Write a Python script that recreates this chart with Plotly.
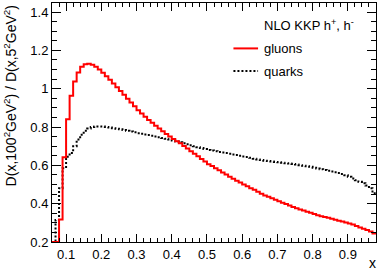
import numpy as np
import plotly.graph_objects as go

# histogram binning (x axis)
BIN_LOW = 0.06
BIN_WIDTH = 0.01

gluons = [0.2, 0.2, 0.318, 0.642, 0.84, 0.963, 1.038, 1.085, 1.115, 1.128,
          1.130, 1.125, 1.115, 1.100, 1.083, 1.065, 1.046, 1.027, 1.008, 0.988,
          0.968, 0.948, 0.928, 0.908, 0.887, 0.870, 0.853, 0.837, 0.822, 0.807,
          0.792, 0.778, 0.764, 0.751, 0.738, 0.726, 0.715, 0.701, 0.688, 0.674,
          0.660, 0.647, 0.633, 0.620, 0.606, 0.596, 0.585, 0.574, 0.563, 0.552,
          0.541, 0.530, 0.520, 0.510, 0.500, 0.491, 0.481, 0.472, 0.462, 0.452,
          0.443, 0.436, 0.428, 0.420, 0.413, 0.405, 0.398, 0.390, 0.382, 0.376,
          0.370, 0.364, 0.358, 0.352, 0.346, 0.340, 0.335, 0.330, 0.326, 0.321,
          0.316, 0.311, 0.307, 0.302, 0.297, 0.291, 0.284, 0.276, 0.269, 0.262,
          0.255, 0.245]

quarks = [0.2, 0.315, 0.48, 0.585, 0.645, 0.665, 0.70, 0.735, 0.76, 0.78,
          0.792, 0.80, 0.803, 0.803, 0.802, 0.800, 0.797, 0.794, 0.791, 0.788,
          0.784, 0.780, 0.776, 0.772, 0.768, 0.765, 0.761, 0.758, 0.755, 0.751,
          0.747, 0.743, 0.739, 0.735, 0.730, 0.725, 0.720, 0.715, 0.710, 0.705,
          0.700, 0.695, 0.690, 0.685, 0.680, 0.677, 0.674, 0.670, 0.667, 0.664,
          0.661, 0.657, 0.654, 0.650, 0.646, 0.643, 0.639, 0.635, 0.631, 0.628,
          0.624, 0.622, 0.620, 0.618, 0.616, 0.614, 0.611, 0.609, 0.607, 0.604,
          0.601, 0.598, 0.595, 0.592, 0.588, 0.584, 0.580, 0.576, 0.572, 0.568,
          0.564, 0.560, 0.555, 0.548, 0.540, 0.531, 0.522, 0.514, 0.506, 0.495,
          0.480, 0.455]

x_ticks = [0.1, 0.2, 0.3, 0.4, 0.5, 0.6, 0.7, 0.8, 0.9]
x_ticklabels = ["0.1", "0.2", "0.3", "0.4", "0.5", "0.6", "0.7", "0.8", "0.9"]
y_ticks = [0.2, 0.4, 0.6, 0.8, 1.0, 1.2, 1.4]
y_ticklabels = ["0.2", "0.4", "0.6", "0.8", "1", "1.2", "1.4"]

n = len(gluons)
edges = BIN_LOW + BIN_WIDTH * np.arange(n + 1)
XMIN, XMAX = edges[0], edges[-1]


def step(vals):
    return list(edges), list(vals) + [vals[-1]]


FONT = "Liberation Sans, Arial, Helvetica, sans-serif"

fig = go.Figure()
gx, gy = step(gluons)
qx, qy = step(quarks)
fig.add_trace(go.Scatter(x=qx, y=qy, mode="lines", line_shape="hv",
                         line=dict(color="black", width=2, dash="2px,2px"),
                         showlegend=False, hoverinfo="skip"))
fig.add_trace(go.Scatter(x=gx, y=gy, mode="lines", line_shape="hv",
                         line=dict(color="#ff0000", width=2),
                         showlegend=False, hoverinfo="skip"))

axis_common = dict(showline=True, linecolor="black", linewidth=1, mirror="allticks",
                   ticks="inside", tickcolor="black", showgrid=False, zeroline=False,
                   automargin=False,
                   tickfont=dict(family=FONT, size=13, color="black"))

fig.update_xaxes(range=[XMIN, XMAX], tickvals=x_ticks, ticktext=x_ticklabels,
                 ticklen=8, tickwidth=1,
                 minor=dict(ticks="inside", dtick=0.02, tick0=0.0, ticklen=4,
                            tickcolor="black", showgrid=False),
                 **axis_common)
fig.update_yaxes(range=[0.2, 1.447], tickvals=y_ticks, ticktext=y_ticklabels,
                 ticklen=9, tickwidth=1,
                 minor=dict(ticks="inside", dtick=0.05, tick0=0.0, ticklen=5,
                            tickcolor="black", showgrid=False),
                 **axis_common)

annotations = [
    dict(text="D(x,100<sup>2</sup>GeV<sup>2</sup>) / D(x,5<sup>2</sup>GeV<sup>2</sup>)",
         xref="paper", yref="paper", x=-0.13, y=1.0, xanchor="center", yanchor="top",
         textangle=-90, showarrow=False, font=dict(family=FONT, size=14, color="black")),
    dict(text="x", xref="paper", yref="paper", x=1.005, y=-0.088, xanchor="right",
         yanchor="middle", showarrow=False, font=dict(family=FONT, size=14, color="black")),
    dict(text="NLO KKP h<sup>+</sup>, h<sup>-</sup>", xref="paper", yref="paper",
         x=0.648, y=0.908, xanchor="left", yanchor="middle", showarrow=False,
         font=dict(family=FONT, size=13, color="black")),
    dict(text="gluons", xref="paper", yref="paper", x=0.648, y=0.81, xanchor="left",
         yanchor="middle", showarrow=False, font=dict(family=FONT, size=13, color="black")),
    dict(text="quarks", xref="paper", yref="paper", x=0.648, y=0.715, xanchor="left",
         yanchor="middle", showarrow=False, font=dict(family=FONT, size=13, color="black")),
]

shapes = [
    dict(type="line", xref="paper", yref="paper", x0=0.56, x1=0.636, y0=0.81, y1=0.81,
         line=dict(color="#ff0000", width=2)),
    dict(type="line", xref="paper", yref="paper", x0=0.56, x1=0.636, y0=0.715, y1=0.715,
         line=dict(color="black", width=2, dash="2px,2px")),
]

fig.update_layout(width=382, height=274, margin=dict(l=52, r=6, t=3, b=32, autoexpand=False),
                  paper_bgcolor="white", plot_bgcolor="white",
                  annotations=annotations, shapes=shapes, showlegend=False,
                  font=dict(family=FONT), hovermode=False)

fig.write_html("out.html", config={"displayModeBar": False, "staticPlot": True},
               post_script="document.body.style.margin='0';document.body.style.overflow='hidden';")
